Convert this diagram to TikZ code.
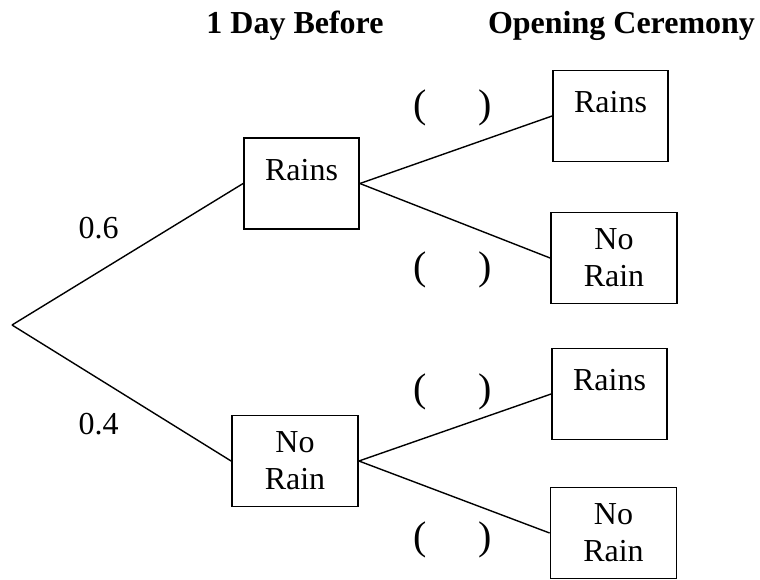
\documentclass[tikz,border=0pt]{standalone}
\usepackage{fontspec}
\setmainfont{Liberation Serif}

\begin{document}
\begin{tikzpicture}[x=0.5pt, y=-0.5pt,
  every node/.style={font=\fontsize{16}{18.5}\selectfont},
  head/.style={font=\fontsize{16}{18.5}\selectfont\bfseries, anchor=base},
  box/.style={draw, line width=0.9pt, align=center, inner sep=0pt, minimum height=45.5pt},
  rainbox/.style={box, minimum width=57.5pt},
  norainbox/.style={box, minimum width=63pt},
  blank/.style={font=\fontsize{20}{24}\selectfont}]
  \useasboundingbox (0,0) rectangle (760,579);
  \node[head] (before) at (295,33) {1 Day Before};
  \node[head] (ceremony) at (621.5,33) {Opening Ceremony};
  \coordinate (root) at (12,325);
  \node[rainbox] (d1) at (301.5,183.5) {Rains\\[-5pt]\phantom{Rain}};
  \node[norainbox] (d2) at (295,461) {No\\Rain};
  \node[rainbox] (o1) at (610.5,116) {Rains\\[-5pt]\phantom{Rain}};
  \node[norainbox] (o2) at (614,258) {No\\Rain};
  \node[rainbox] (o3) at (609.5,394) {Rains\\[-5pt]\phantom{Rain}};
  \node[norainbox] (o4) at (613.5,533) {No\\Rain};
  \node (p6) at (98.5,228.5) {0.6};
  \node (p4) at (98.5,424.5) {0.4};
  \node[blank] (b1) at (452.5,108) {(\hspace{26pt})};
  \node[blank] (b2) at (452.5,270) {(\hspace{26pt})};
  \node[blank] (b3) at (452.5,392) {(\hspace{26pt})};
  \node[blank] (b4) at (452.5,540) {(\hspace{26pt})};
  \path[line width=0.7pt]
  (root) edge (d1.west)
         edge (d2.west)
  (d1.east) edge (o1.west)
            edge (o2.west)
  (d2.east) edge (o3.west)
            edge (o4.west);
\end{tikzpicture}
\end{document}
